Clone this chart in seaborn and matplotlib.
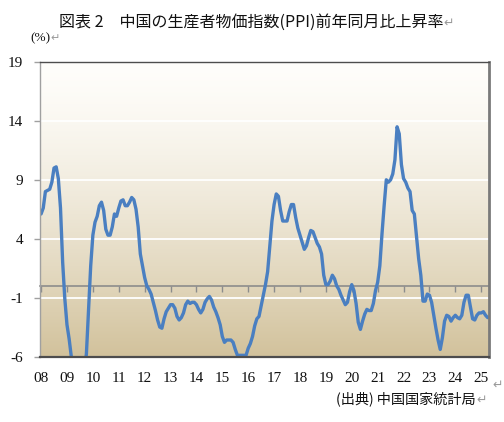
import numpy as np
import pandas as pd
import matplotlib
matplotlib.use("Agg")
import matplotlib.pyplot as plt
import matplotlib.colors as mcolors
import seaborn as sns

# ---- data: China PPI, y/y %, monthly Jan 2008 - Apr 2025 ----
ppi_2008 = [6.1, 6.6, 8.0, 8.1, 8.2, 8.8, 10.0, 10.1, 9.1, 6.6, 2.0, -1.1]
ppi_2009 = [-3.3, -4.5, -6.0, -6.6, -7.2, -7.8, -8.2, -7.9, -7.0, -5.8, -2.1, 1.7]
ppi_2010 = [4.3, 5.4, 5.9, 6.8, 7.1, 6.4, 4.8, 4.3, 4.3, 5.0, 6.1, 5.9]
ppi_2011 = [6.6, 7.2, 7.3, 6.8, 6.8, 7.1, 7.5, 7.3, 6.5, 5.0, 2.7, 1.7]
ppi_2012 = [0.7, 0.0, -0.3, -0.7, -1.4, -2.1, -2.9, -3.5, -3.6, -2.8, -2.2, -1.9]
ppi_2013 = [-1.6, -1.6, -1.9, -2.6, -2.9, -2.7, -2.3, -1.6, -1.3, -1.5, -1.4, -1.4]
ppi_2014 = [-1.6, -2.0, -2.3, -2.0, -1.4, -1.1, -0.9, -1.2, -1.8, -2.2, -2.7, -3.3]
ppi_2015 = [-4.3, -4.8, -4.6, -4.6, -4.6, -4.8, -5.4, -5.9, -5.9, -5.9, -5.9, -5.9]
ppi_2016 = [-5.3, -4.9, -4.3, -3.4, -2.8, -2.6, -1.7, -0.8, 0.1, 1.2, 3.3, 5.5]
ppi_2017 = [6.9, 7.8, 7.6, 6.4, 5.5, 5.5, 5.5, 6.3, 6.9, 6.9, 5.8, 4.9]
ppi_2018 = [4.3, 3.7, 3.1, 3.4, 4.1, 4.7, 4.6, 4.1, 3.6, 3.3, 2.7, 0.9]
ppi_2019 = [0.1, 0.1, 0.4, 0.9, 0.6, 0.0, -0.3, -0.8, -1.2, -1.6, -1.4, -0.5]
ppi_2020 = [0.1, -0.4, -1.5, -3.1, -3.7, -3.0, -2.4, -2.0, -2.1, -2.1, -1.5, -0.4]
ppi_2021 = [0.3, 1.7, 4.4, 6.8, 9.0, 8.8, 9.0, 9.5, 10.7, 13.5, 12.9, 10.3]
ppi_2022 = [9.1, 8.8, 8.3, 8.0, 6.4, 6.1, 4.2, 2.3, 0.9, -1.3, -1.3, -0.7]
ppi_2023 = [-0.8, -1.4, -2.5, -3.6, -4.6, -5.4, -4.4, -3.0, -2.5, -2.6, -3.0, -2.7]
ppi_2024 = [-2.5, -2.7, -2.8, -2.5, -1.4, -0.8, -0.8, -1.8, -2.8, -2.9, -2.5, -2.3]
ppi_2025 = [-2.3, -2.2, -2.5, -2.7]

year_labels = ["08", "09", "10", "11", "12", "13", "14", "15", "16",
               "17", "18", "19", "20", "21", "22", "23", "24", "25"]
y_ticks = [-6, -1, 4, 9, 14, 19]

title_text = "図表 2\u3000中国の生産者物価指数(PPI)前年同月比上昇率"
unit_text = "(%)"
source_text = "(出典) 中国国家統計局"
para_mark = "\u21b5"

values = (ppi_2008 + ppi_2009 + ppi_2010 + ppi_2011 + ppi_2012 + ppi_2013 +
          ppi_2014 + ppi_2015 + ppi_2016 + ppi_2017 + ppi_2018 + ppi_2019 +
          ppi_2020 + ppi_2021 + ppi_2022 + ppi_2023 + ppi_2024 + ppi_2025)
df = pd.DataFrame({"idx": np.arange(len(values)), "ppi": values})
jan_pos = [12 * i for i in range(len(year_labels))]

# ---- styling ----
sns.set_theme(style="white")
plt.rcParams["font.family"] = ["Noto Sans CJK JP", "DejaVu Sans"]
serif = ["Liberation Serif", "DejaVu Serif"]
cjk = ["Noto Sans CJK JP", "DejaVu Sans"]

W, H = 504, 422
fig = plt.figure(figsize=(W / 100, H / 100), dpi=100)
fig.patch.set_facecolor("white")
L, R, T, B = 40, 489, 62, 356.5
ax = fig.add_axes([L / W, 1 - B / H, (R - L) / W, (B - T) / H])

xmin, xmax = -0.5, len(values) - 0.4
ymin, ymax = -6, 19

# gradient background
top_c = np.array(mcolors.to_rgb("#fffefb"))
bot_c = np.array(mcolors.to_rgb("#d2c29c"))
t = np.linspace(0, 1, 300) ** 1.4
grad = top_c[None, :] + (bot_c - top_c)[None, :] * t[:, None]
ax.imshow(grad[:, None, :], extent=(xmin, xmax, ymin, ymax), aspect="auto",
          origin="upper", zorder=0, interpolation="bilinear")

for yv in y_ticks[1:-1]:
    ax.axhline(yv, color="white", lw=1.3, zorder=1)

sns.lineplot(data=df, x="idx", y="ppi", ax=ax, color="#4a7fc1", lw=2.4,
             zorder=3, solid_joinstyle="round", solid_capstyle="round")

ax.set_xlim(xmin, xmax)
ax.set_ylim(ymin, ymax)
ax.set_xlabel("")
ax.set_ylabel("")

ax.set_xticks(jan_pos)
ax.set_xticklabels(year_labels)
ax.tick_params(axis="x", length=0, pad=11, labelsize=11, colors="#111111",
               labelfontfamily="Liberation Serif")
ax.set_yticks(y_ticks)
ax.set_yticklabels([str(v) for v in y_ticks])
ax.tick_params(axis="y", left=True, length=4, width=1, color="#a0a0a0",
               pad=8, labelsize=11, labelcolor="#111111",
               labelfontfamily="Liberation Serif")

ax.spines["bottom"].set_color("#4d4d4d")
ax.spines["bottom"].set_linewidth(1.6)
ax.spines["top"].set_color("#4d4d4d")
ax.spines["top"].set_linewidth(1.0)
ax.spines["right"].set_color("#7a7a7a")
ax.spines["right"].set_linewidth(2.0)
ax.spines["left"].set_color("#a0a0a0")
ax.spines["left"].set_linewidth(1.0)
for s in ax.spines.values():
    s.set_zorder(4)

# category axis crossing at zero with tick marks
zero_frac = (0 - ymin) / (ymax - ymin)
sec = ax.secondary_xaxis(zero_frac)
sec.set_zorder(2)
sec.set_xticks(jan_pos)
sec.set_xticklabels([])
sec.tick_params(axis="x", direction="out", length=4, width=1, color="#8c8c8c")
sec.spines["bottom"].set_color("#8c8c8c")
sec.spines["bottom"].set_linewidth(1.2)

# texts
tt = fig.text(251 / W, 1 - 22 / H, title_text, ha="center", va="center",
              fontsize=11.5, family=cjk, color="#111111")
ax.annotate(para_mark, xy=(1, 0.45), xycoords=tt, ha="left", va="center",
            fontsize=9, color="#9a9a9a", family=cjk, annotation_clip=False)

ut = fig.text(30 / W, 1 - 38 / H, unit_text, ha="left", va="center",
              fontsize=9.5, family="Liberation Serif", color="#111111")
ax.annotate(para_mark, xy=(1, 0.45), xycoords=ut, ha="left", va="center",
            fontsize=8, color="#9a9a9a", family=cjk, annotation_clip=False)

st = fig.text(476 / W, 1 - 399 / H, source_text, ha="right", va="center",
              fontsize=10.2, family=cjk, color="#111111")
ax.annotate(para_mark, xy=(1, 0.45), xycoords=st, ha="left", va="center",
            fontsize=9, color="#9a9a9a", family=cjk, annotation_clip=False)

fig.text(492 / W, 1 - 385 / H, para_mark, ha="left", va="center",
         fontsize=9, color="#9a9a9a", family=cjk)

fig.savefig("out.png", dpi=100)
